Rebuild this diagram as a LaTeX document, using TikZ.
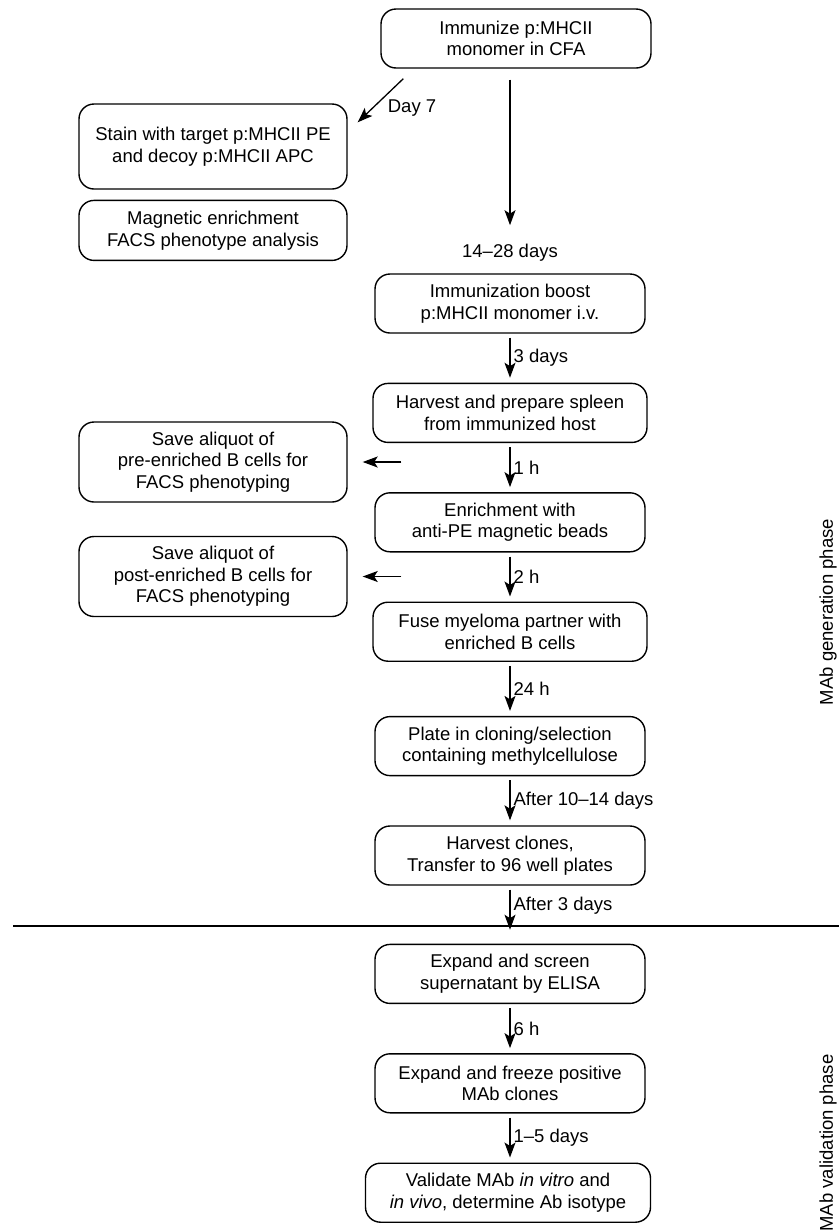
\documentclass[tikz,border=0pt]{standalone}
\usepackage{fontspec}
\setmainfont{Liberation Sans}
\usepackage{tikz}
\usetikzlibrary{
  arrows.meta,
  positioning,
  calc
}
\newcommand{\boxfont}{\fontsize{18.5pt}{21.7pt}\selectfont}
\tikzset{
  stepbox/.style={
    rectangle, draw, rounded corners=15pt,
    minimum width=270pt, minimum height=59pt, inner sep=2pt,
    font=\boxfont, align=center, line width=1.4pt
  },
  sidebox/.style={stepbox, minimum width=268pt},
  arrow/.style={-{Stealth[length=15pt, width=11pt, inset=3.5pt]}, line width=1.3pt},
  steparrow/.style={arrow, shorten <=4pt, shorten >=5pt},
  lbl/.style={font=\boxfont, inner sep=1pt},
  phase/.style={font=\boxfont, rotate=90},
}

\begin{document}
\begin{tikzpicture}[x=1pt, y=-1pt, node distance=49pt]
\useasboundingbox (0,0) rectangle (839,1232);

% Main column
\node[stepbox] (immun) at (516,38.5) {Immunize p:MHCII\\monomer in CFA};
\node[lbl] (wait) at (510,253) {14--28 days};
\node[stepbox] (boost) at (510,303.5) {Immunization boost\\p:MHCII monomer i.v.};
\node[stepbox, minimum width=274pt, below=of boost] (harvest) {Harvest and prepare spleen\\from immunized host};
\node[stepbox, below=of harvest] (enrich) {Enrichment with\\anti-PE magnetic beads};
\node[stepbox, minimum width=274pt, below=of enrich] (fuse) {Fuse myeloma partner with\\enriched B cells};
\node[stepbox, below=54pt of fuse] (plate) {Plate in cloning/selection\\containing methylcellulose};
\node[stepbox, below=of plate] (clones) {Harvest clones,\\Transfer to 96 well plates};
\node[stepbox, below=58pt of clones] (expand) {Expand and screen\\supernatant by ELISA};
\node[stepbox, below=of expand] (freeze) {Expand and freeze positive\\MAb clones};
\node[stepbox, minimum width=285pt, below=of freeze, xshift=-2pt] (validate) {Validate MAb \textit{in vitro} and\\\textit{in vivo}, determine Ab isotype};

% Side boxes
\node[sidebox, minimum height=85pt] (stain) at (213,146.5) {Stain with target p:MHCII PE\\and decoy p:MHCII APC};
\node[sidebox, minimum height=60pt, below=10pt of stain] (magnet) {Magnetic enrichment\\FACS phenotype analysis};
\node[sidebox, minimum height=80pt] (preali) at (213,462) {Save aliquot of\\pre-enriched B cells for\\FACS phenotyping};
\node[sidebox, minimum height=80pt] (postali) at (213,576.5) {Save aliquot of\\post-enriched B cells for\\FACS phenotyping};

% Arrows
\draw[arrow] ([xshift=23pt, yshift=-10pt]immun.south west) -- ([xshift=10pt, yshift=-19pt]stain.north east)
  node[pos=0.55, anchor=west, lbl, xshift=8pt, yshift=-5pt] {Day 7};
\draw[arrow, shorten <=11pt, shorten >=18pt] (immun.south -| wait.north) -- (wait.north);
\draw[steparrow] (boost) -- (harvest) node[midway, right, lbl, xshift=2pt] {3 days};
\draw[steparrow] (harvest) -- (enrich) node[midway, right, lbl, xshift=2pt] {1 h};
\draw[steparrow] (enrich) -- (fuse) node[midway, right, lbl, xshift=2pt] {2 h};
\draw[steparrow] (fuse) -- (plate) node[midway, right, lbl, xshift=2pt] {24 h};
\draw[steparrow] (plate) -- (clones) node[midway, right, lbl, xshift=2pt] {After 10--14 days};
\draw[steparrow, shorten >=14pt] (clones) -- (expand) node[midway, right, lbl, xshift=2pt, yshift=9pt] {After 3 days};
\draw[steparrow] (expand) -- (freeze) node[midway, right, lbl, xshift=2pt] {6 h};
\draw[steparrow] (freeze.south) -- (freeze.south |- validate.north) node[midway, right, lbl, xshift=2pt] {1--5 days};
\draw[arrow] ([xshift=29pt]preali.east -| harvest.west) -- ([xshift=15pt]preali.east);
\draw[arrow] ([xshift=29pt]postali.east -| fuse.west) -- ([xshift=15pt]postali.east);

% Phase split
\draw[line width=1.4pt] (13,926) -- (839,926);
\node[phase] (genphase) at (828,612) {MAb generation phase};
\node[phase] (valphase) at (828,1143) {MAb validation phase};

\end{tikzpicture}
\end{document}
